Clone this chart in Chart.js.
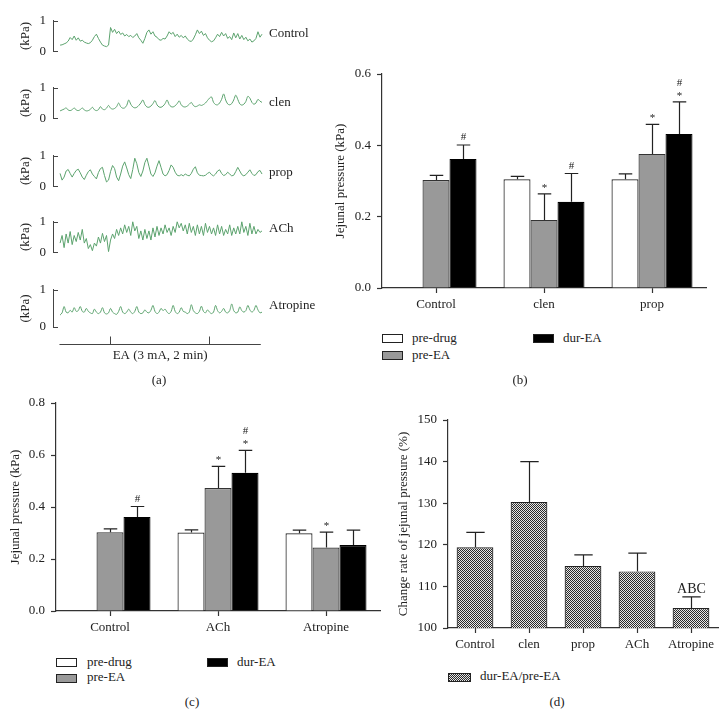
<!DOCTYPE html>
<html>
<head>
<meta charset="utf-8">
<script src="https://cdn.jsdelivr.net/npm/chart.js@4.4.1/dist/chart.umd.min.js"></script>
<style>
  body { margin: 0; background: #fff; }
  #fig { position: relative; width: 727px; height: 728px; font-family: "Liberation Serif", "Times New Roman", serif; font-size: 13px; color: #222; }
  #fig canvas { position: absolute; }
  .t { position: absolute; line-height: 16px; white-space: nowrap; }
  .c { transform: translateX(-50%); }
  .box { position: absolute; width: 21px; height: 9px; border: 1px solid #222; box-sizing: border-box; }
</style>
</head>
<body>
<div id="fig">
  <!-- (a) traces -->
  <canvas id="tr0" width="270" height="60" style="left:0;top:6px"></canvas>
  <canvas id="tr1" width="270" height="60" style="left:0;top:73px"></canvas>
  <canvas id="tr2" width="270" height="60" style="left:0;top:141px"></canvas>
  <canvas id="tr3" width="270" height="60" style="left:0;top:207px"></canvas>
  <canvas id="tr4" width="270" height="100" style="left:0;top:275px"></canvas>
  <div class="t" style="left:269px;top:25px">Control</div>
  <div class="t" style="left:269px;top:94px">clen</div>
  <div class="t" style="left:269px;top:164px">prop</div>
  <div class="t" style="left:269px;top:220px">ACh</div>
  <div class="t" style="left:269px;top:297px">Atropine</div>
  <div class="t c" style="left:159px;top:372px">(a)</div>

  <!-- (b) -->
  <canvas id="chartB" width="380" height="258" style="left:330px;top:60px"></canvas>
  <div class="box" style="left:382px;top:334px;background:#fff"></div>
  <div class="t" style="left:412px;top:330px">pre-drug</div>
  <div class="box" style="left:382px;top:351px;background:#999"></div>
  <div class="t" style="left:412px;top:347px">pre-EA</div>
  <div class="box" style="left:533px;top:334px;background:#000"></div>
  <div class="t" style="left:563px;top:330px">dur-EA</div>
  <div class="t c" style="left:520px;top:372px">(b)</div>

  <!-- (c) -->
  <canvas id="chartC" width="384" height="252" style="left:0;top:389px"></canvas>
  <div class="box" style="left:56px;top:658px;background:#fff"></div>
  <div class="t" style="left:87px;top:654px">pre-drug</div>
  <div class="box" style="left:56px;top:674px;background:#999"></div>
  <div class="t" style="left:87px;top:669px">pre-EA</div>
  <div class="box" style="left:207px;top:658px;background:#000"></div>
  <div class="t" style="left:237px;top:654px">dur-EA</div>
  <div class="t c" style="left:192px;top:694px">(c)</div>

  <!-- (d) -->
  <canvas id="chartD" width="332" height="252" style="left:390px;top:406px"></canvas>
  <div class="box" id="boxD" style="left:448px;top:673px;width:23px"></div>
  <div class="t" style="left:480px;top:668px">dur-EA/pre-EA</div>
  <div class="t c" style="left:557px;top:694px">(d)</div>
</div>

<script>
// ---- data ----
// (a) pressure traces, kPa, one sample every ~2 px of the record
var traceControl = [0.20,0.21,0.24,0.27,0.33,0.45,0.38,0.50,0.36,0.44,
  0.33,0.36,0.30,0.27,0.25,0.28,0.36,0.48,0.56,0.42,
  0.30,0.20,0.17,0.15,0.20,0.78,0.62,0.72,0.58,0.66,
  0.55,0.60,0.50,0.55,0.48,0.52,0.45,0.50,0.58,0.44,
  0.36,0.26,0.42,0.62,0.70,0.56,0.64,0.50,0.46,0.38,
  0.36,0.42,0.40,0.50,0.64,0.56,0.62,0.48,0.56,0.46,
  0.52,0.44,0.50,0.40,0.34,0.32,0.40,0.54,0.70,0.58,
  0.66,0.52,0.58,0.44,0.36,0.31,0.34,0.44,0.56,0.48,
  0.62,0.50,0.58,0.42,0.48,0.38,0.60,0.44,0.58,0.40,
  0.52,0.38,0.46,0.34,0.40,0.30,0.34,0.42,0.64,0.46,0.56];
var traceClen = [0.24,0.27,0.30,0.34,0.27,0.25,0.28,0.34,0.27,0.25,
  0.28,0.34,0.27,0.24,0.25,0.29,0.36,0.28,0.25,0.28,
  0.38,0.30,0.28,0.33,0.42,0.33,0.30,0.32,0.38,0.50,
  0.38,0.33,0.34,0.42,0.60,0.46,0.37,0.34,0.36,0.42,
  0.50,0.60,0.45,0.37,0.36,0.40,0.48,0.58,0.44,0.37,
  0.36,0.40,0.48,0.60,0.45,0.38,0.37,0.41,0.48,0.57,
  0.44,0.38,0.37,0.40,0.46,0.52,0.42,0.38,0.40,0.44,
  0.42,0.45,0.50,0.58,0.66,0.70,0.52,0.45,0.44,0.50,
  0.62,0.80,0.60,0.47,0.44,0.48,0.60,0.76,0.62,0.47,
  0.43,0.46,0.55,0.72,0.66,0.52,0.46,0.50,0.62,0.56,0.52];
var traceProp = [0.42,0.20,0.30,0.50,0.55,0.42,0.30,0.42,0.52,0.56,
  0.44,0.30,0.22,0.36,0.48,0.54,0.40,0.32,0.24,0.45,
  0.58,0.62,0.35,0.14,0.20,0.48,0.68,0.58,0.30,0.18,
  0.40,0.66,0.80,0.60,0.38,0.25,0.55,0.92,0.74,0.45,
  0.32,0.50,0.78,0.92,0.66,0.40,0.32,0.44,0.66,0.84,
  0.62,0.40,0.34,0.38,0.52,0.70,0.62,0.46,0.36,0.34,
  0.38,0.34,0.40,0.36,0.34,0.42,0.56,0.64,0.44,0.36,
  0.35,0.34,0.36,0.42,0.46,0.38,0.34,0.40,0.50,0.54,
  0.42,0.35,0.38,0.46,0.40,0.34,0.36,0.48,0.62,0.50,
  0.38,0.34,0.38,0.46,0.54,0.42,0.35,0.38,0.48,0.52,0.40];
var traceACh = [0.30,0.55,0.15,0.60,0.30,0.68,0.25,0.55,0.35,0.65,
  0.40,0.75,0.30,0.45,0.12,0.25,0.05,0.30,0.20,0.50,
  0.30,0.62,0.35,0.55,0.02,0.40,0.60,0.45,0.75,0.55,
  0.80,0.60,0.90,0.65,0.85,0.55,1.00,0.70,0.85,0.45,
  0.70,0.40,0.75,0.45,0.70,0.40,0.80,0.50,0.85,0.55,
  0.80,0.60,0.90,0.65,0.80,0.55,0.85,0.65,1.00,0.80,
  0.95,0.70,0.90,0.60,0.95,0.65,0.85,0.55,0.90,0.60,
  0.85,0.55,0.95,0.65,0.85,0.60,0.80,0.55,0.90,0.60,
  0.85,0.55,0.75,0.60,0.90,0.55,0.80,0.60,0.85,0.60,
  1.00,0.65,0.85,0.55,0.95,0.60,0.85,0.60,0.75,0.65,0.70];
var traceAtropine = [0.32,0.38,0.55,0.40,0.38,0.45,0.40,0.52,0.42,0.44,
  0.55,0.42,0.40,0.50,0.42,0.38,0.36,0.48,0.40,0.36,
  0.40,0.52,0.38,0.35,0.38,0.50,0.40,0.36,0.34,0.42,
  0.55,0.40,0.36,0.40,0.48,0.40,0.36,0.42,0.55,0.40,
  0.36,0.38,0.46,0.40,0.38,0.45,0.58,0.42,0.36,0.40,
  0.50,0.44,0.48,0.40,0.36,0.42,0.58,0.42,0.36,0.40,
  0.52,0.42,0.40,0.36,0.40,0.60,0.44,0.38,0.36,0.42,
  0.56,0.42,0.38,0.46,0.40,0.36,0.40,0.58,0.44,0.38,
  0.42,0.50,0.40,0.38,0.44,0.62,0.44,0.38,0.40,0.54,
  0.44,0.40,0.44,0.58,0.46,0.40,0.45,0.58,0.46,0.38,0.40];
var eaOnOff = [24.5, 74];   // sample index where EA starts / stops

// (b)
var catsB = ['Control', 'clen', 'prop'];
var preDrugB = [null, 0.305, 0.305];
var preEAB = [0.303, 0.191, 0.376];
var durEAB = [0.362, 0.242, 0.432];
var preDrugErrB = [0, 0.008, 0.015];
var preEAErrB = [0.013, 0.073, 0.083];
var durEAErrB = [0.039, 0.079, 0.090];
var preEASigB = [[], ['*'], ['*']];
var durEASigB = [['#'], ['#'], ['*', '#']];

// (c)
var catsC = ['Control', 'ACh', 'Atropine'];
var preDrugC = [null, 0.302, 0.299];
var preEAC = [0.303, 0.473, 0.244];
var durEAC = [0.362, 0.532, 0.254];
var preDrugErrC = [0, 0.010, 0.012];
var preEAErrC = [0.013, 0.083, 0.059];
var durEAErrC = [0.040, 0.086, 0.057];
var preEASigC = [[], ['*'], ['*']];
var durEASigC = [['#'], ['*', '#'], []];

// (d)
var catsD = ['Control', 'clen', 'prop', 'ACh', 'Atropine'];
var ratioD = [119.4, 130.3, 114.9, 113.6, 104.8];
var ratioErrD = [3.6, 9.7, 2.7, 4.4, 2.7];
var ratioSigD = [[], [], [], [], ['ABC']];

Chart.defaults.font.family = '"Liberation Serif", "Times New Roman", serif';
Chart.defaults.font.size = 13;
Chart.defaults.color = '#222';

// short ticks pointing into the plot at 0 and 1 (the "[" bracket)
var bracket = {
  id: 'bracket',
  afterDraw: function(chart) {
    var ctx = chart.ctx, a = chart.chartArea, y = chart.scales.y;
    ctx.save();
    ctx.strokeStyle = '#444';
    ctx.lineWidth = 1;
    [0, 1].forEach(function(v) {
      var py = Math.round(y.getPixelForValue(v)) + 0.5;
      ctx.beginPath();
      ctx.moveTo(a.left, py);
      ctx.lineTo(a.left + 5, py);
      ctx.stroke();
    });
    ctx.restore();
  }
};

// time axis under the last trace
var eaAxis = {
  id: 'eaAxis',
  afterDraw: function(chart, args, o) {
    var ctx = chart.ctx, a = chart.chartArea, x = chart.scales.x;
    var y = Math.round(a.bottom + 17) + 0.5;
    var x0 = x.getPixelForValue(o.from), x1 = x.getPixelForValue(o.to);
    ctx.save();
    ctx.strokeStyle = '#444';
    ctx.lineWidth = 1;
    ctx.beginPath();
    ctx.moveTo(x0, y);
    ctx.lineTo(x1, y);
    o.ticks.forEach(function(t) {
      var px = Math.round(x.getPixelForValue(t)) + 0.5;
      ctx.moveTo(px, y);
      ctx.lineTo(px, y - 8);
    });
    ctx.stroke();
    ctx.fillStyle = '#222';
    ctx.font = '13px "Liberation Serif", serif';
    ctx.textAlign = 'center';
    ctx.textBaseline = 'middle';
    ctx.fillText(o.label, (x0 + x1) / 2, y + 11);
    ctx.restore();
  }
};

function traceChart(id, values, smooth, last) {
  var cfg = {
    type: 'line',
    data: {
      datasets: [{
        data: values.map(function(v, i) { return {x: i, y: v}; }),
        borderColor: 'rgb(92,163,110)',
        borderWidth: 1,
        pointRadius: 0,
        tension: smooth ? 0.3 : 0,
        clip: false
      }]
    },
    options: {
      responsive: false,
      animation: false,
      layout: {padding: {top: 8, bottom: last ? 48 : 8, left: 0, right: 8}},
      plugins: {
        legend: {display: false},
        tooltip: {enabled: false},
        eaAxis: {from: -0.3, to: 99.4, ticks: eaOnOff, label: 'EA (3 mA, 2 min)'}
      },
      scales: {
        x: {type: 'linear', display: false, min: -3.5, max: 100},
        y: {
          min: 0, max: 1,
          afterFit: function(s) { s.width = 53; },
          ticks: {stepSize: 1, padding: 7},
          grid: {display: false, drawTicks: false},
          border: {display: true, color: '#444', width: 1},
          title: {display: true, text: '(kPa)', padding: {top: 18, bottom: 0}}
        }
      }
    },
    plugins: last ? [bracket, eaAxis] : [bracket]
  };
  return new Chart(document.getElementById(id), cfg);
}

traceChart('tr0', traceControl, false, false);
traceChart('tr1', traceClen, true, false);
traceChart('tr2', traceProp, false, false);
traceChart('tr3', traceACh, false, false);
traceChart('tr4', traceAtropine, true, true);

// error bars (upward only) and significance marks above them
var errorBars = {
  id: 'errorBars',
  afterDatasetsDraw: function(chart, args, o) {
    var ctx = chart.ctx, y = chart.scales.y;
    ctx.save();
    chart.data.datasets.forEach(function(ds, d) {
      var meta = chart.getDatasetMeta(d);
      meta.data.forEach(function(bar, i) {
        var v = ds.data[i];
        if (v == null) return;
        var top = y.getPixelForValue(v + o.errors[d][i]);
        var half = bar.width / 4;
        var bx = Math.round(bar.x) + 0.5;
        ctx.strokeStyle = '#222';
        ctx.lineWidth = 1.2;
        ctx.beginPath();
        ctx.moveTo(bx, bar.y);
        ctx.lineTo(bx, top);
        ctx.moveTo(bx - half, top);
        ctx.lineTo(bx + half, top);
        ctx.stroke();
        var marks = o.marks[d][i] || [];
        ctx.fillStyle = '#222';
        ctx.font = o.markFont;
        ctx.textAlign = 'center';
        ctx.textBaseline = 'alphabetic';
        marks.forEach(function(s, k) {
          var m = ctx.measureText(s);
          var c = top - o.gap - k * 11.5;
          ctx.fillText(s, bx, c + (m.actualBoundingBoxAscent - m.actualBoundingBoxDescent) / 2);
        });
      });
    });
    ctx.restore();
  }
};

function barScales(yMin, yMax, step, yWidth, titleText, titlePad, fmt) {
  return {
    x: {
      afterFit: function(s) { s.height = 30; },
      grid: {drawOnChartArea: false, offset: false, tickLength: 5, color: '#333', tickWidth: 1.2},
      border: {color: '#333', width: 1.2},
      ticks: {padding: 4}
    },
    y: {
      min: yMin, max: yMax,
      afterFit: function(s) { s.width = yWidth; },
      grid: {drawOnChartArea: false, tickLength: 5, color: '#333', tickWidth: 1.2},
      border: {color: '#333', width: 1.2},
      ticks: {stepSize: step, padding: 6, callback: fmt},
      title: {display: true, text: titleText, padding: {top: titlePad, bottom: 0}}
    }
  };
}

function kpa(v) { return v.toFixed(1); }

// (b)
new Chart(document.getElementById('chartB'), {
  type: 'bar',
  data: {
    labels: catsB,
    datasets: [
      {label: 'pre-drug', data: preDrugB, backgroundColor: '#fff', borderColor: '#222', borderWidth: 1.2},
      {label: 'pre-EA', data: preEAB, backgroundColor: '#999', borderColor: '#333', borderWidth: 1.2},
      {label: 'dur-EA', data: durEAB, backgroundColor: '#000', borderColor: '#000', borderWidth: 1.2}
    ]
  },
  options: {
    responsive: false,
    animation: false,
    categoryPercentage: 0.75,
    barPercentage: 1,
    layout: {padding: {top: 14, right: 4, left: 0, bottom: 0}},
    plugins: {
      legend: {display: false},
      tooltip: {enabled: false},
      errorBars: {
        errors: [preDrugErrB, preEAErrB, durEAErrB],
        marks: [[], preEASigB, durEASigB],
        markFont: '11px "Liberation Serif", serif',
        gap: 8
      }
    },
    scales: barScales(0, 0.6, 0.2, 52, 'Jejunal pressure (kPa)', 3, kpa)
  },
  plugins: [errorBars]
});

// (c)
new Chart(document.getElementById('chartC'), {
  type: 'bar',
  data: {
    labels: catsC,
    datasets: [
      {label: 'pre-drug', data: preDrugC, backgroundColor: '#fff', borderColor: '#222', borderWidth: 1.2},
      {label: 'pre-EA', data: preEAC, backgroundColor: '#999', borderColor: '#333', borderWidth: 1.2},
      {label: 'dur-EA', data: durEAC, backgroundColor: '#000', borderColor: '#000', borderWidth: 1.2}
    ]
  },
  options: {
    responsive: false,
    animation: false,
    categoryPercentage: 0.75,
    barPercentage: 1,
    layout: {padding: {top: 14, right: 4, left: 0, bottom: 0}},
    plugins: {
      legend: {display: false},
      tooltip: {enabled: false},
      errorBars: {
        errors: [preDrugErrC, preEAErrC, durEAErrC],
        marks: [[], preEASigC, durEASigC],
        markFont: '11px "Liberation Serif", serif',
        gap: 8
      }
    },
    scales: barScales(0, 0.8, 0.2, 56, 'Jejunal pressure (kPa)', 8, kpa)
  },
  plugins: [errorBars]
});

// (d) checkered fill
function checker() {
  var c = document.createElement('canvas');
  c.width = 2; c.height = 2;
  var g = c.getContext('2d');
  g.fillStyle = '#e6e6e6';
  g.fillRect(0, 0, 2, 2);
  g.fillStyle = '#2a2a2a';
  g.fillRect(0, 0, 1, 1);
  g.fillRect(1, 1, 1, 1);
  return c;
}
var tile = checker();
var pattern = document.getElementById('chartD').getContext('2d').createPattern(tile, 'repeat');
var boxD = document.getElementById('boxD');
boxD.style.backgroundImage = 'url(' + tile.toDataURL() + ')';
boxD.style.imageRendering = 'pixelated';

new Chart(document.getElementById('chartD'), {
  type: 'bar',
  data: {
    labels: catsD,
    datasets: [
      {label: 'dur-EA/pre-EA', data: ratioD, backgroundColor: pattern, borderColor: '#222', borderWidth: 1.2}
    ]
  },
  options: {
    responsive: false,
    animation: false,
    categoryPercentage: 1,
    barPercentage: 0.68,
    layout: {padding: {top: 14, right: 4, left: 0, bottom: 0}},
    plugins: {
      legend: {display: false},
      tooltip: {enabled: false},
      errorBars: {
        errors: [ratioErrD],
        marks: [ratioSigD],
        markFont: '14px "Liberation Serif", serif',
        gap: 9
      }
    },
    scales: barScales(100, 150, 10, 58, 'Change rate of jejunal pressure (%)', 6)
  },
  plugins: [errorBars]
});
</script>
</body>
</html>
